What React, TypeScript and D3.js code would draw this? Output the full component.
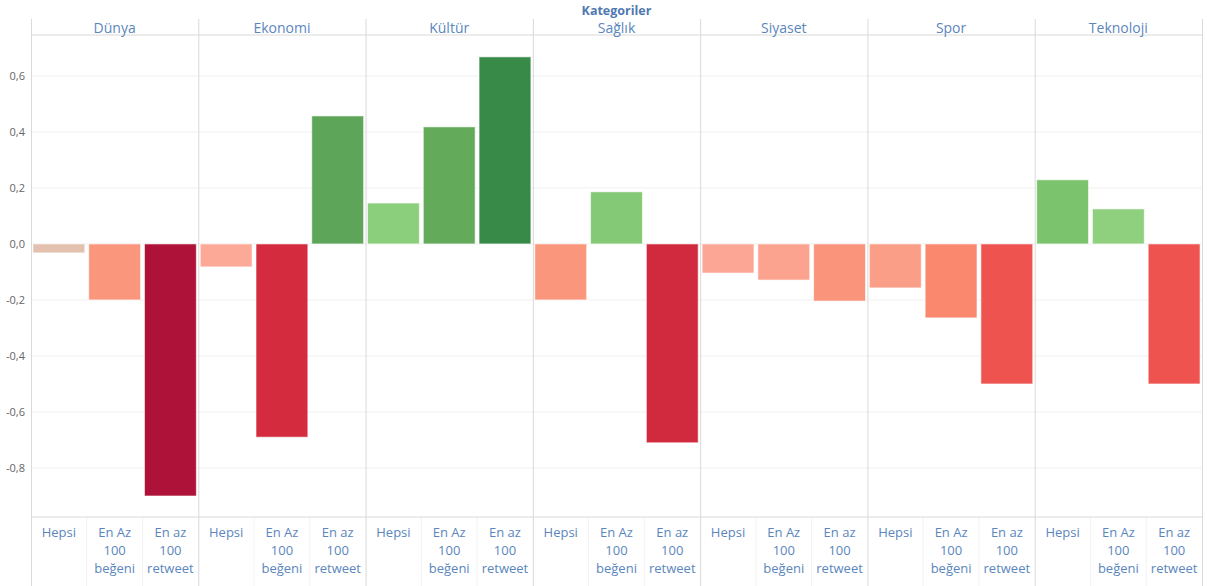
import React, { useEffect, useRef } from "react";
import * as d3 from "d3";

const categories = ["Dünya", "Ekonomi", "Kültür", "Sağlık", "Siyaset", "Spor", "Teknoloji"];
const groups = ["Hepsi", "En Az 100 beğeni", "En az 100 retweet"];
const groupLines = [["Hepsi"], ["En Az", "100", "beğeni"], ["En az", "100", "retweet"]];

const hepsi = [-0.032, -0.082, 0.146, -0.2, -0.104, -0.157, 0.229];
const begeni = [-0.2, -0.69, 0.418, 0.186, -0.129, -0.264, 0.125];
const retweet = [-0.9, 0.457, 0.668, -0.71, -0.204, -0.5, -0.5];

const yTicks = [-0.8, -0.6, -0.4, -0.2, 0, 0.2, 0.4, 0.6];

const W = 1207;
const H = 586;

const App: React.FC = () => {
  const svgRef = useRef<SVGSVGElement>(null);

  useEffect(() => {
    if (!svgRef.current) return;
    const svg = d3.select(svgRef.current);
    svg.selectAll("*").remove();

    const left = 31, right = 1202, top = 35, bottom = 517;
    const font = "'Open Sans', 'Noto Sans', sans-serif";
    const blue = "#5b86bd";

    const data = categories.flatMap((c, i) => [
      { cat: c, grp: groups[0], v: hepsi[i] },
      { cat: c, grp: groups[1], v: begeni[i] },
      { cat: c, grp: groups[2], v: retweet[i] },
    ]);

    const x0 = d3.scaleBand().domain(categories).range([left, right]);
    const x1 = d3.scaleBand().domain(groups).range([0, x0.bandwidth()]).paddingInner(0.07).paddingOuter(0.035);
    const y = d3.scaleLinear().domain([-0.975, 0.746]).range([bottom, top]);

    const color = d3.scaleLinear<string>()
      .domain([-0.9, -0.7, -0.5, -0.26, -0.2, -0.1, -0.06, -0.03, 0, 0.12, 0.23, 0.42, 0.67])
      .range(["#ae1238", "#d32a3d", "#ef5350", "#f9896f", "#fa967c", "#fca896", "#fcab99", "#e2c3b0",
        "#d8cfbe", "#8fd17f", "#7cc36e", "#63aa5b", "#388a48"])
      .interpolate(d3.interpolateRgb)
      .clamp(true);

    // grid lines
    svg.append("g")
      .selectAll("line")
      .data(yTicks)
      .join("line")
      .attr("x1", left).attr("x2", right)
      .attr("y1", d => y(d)).attr("y2", d => y(d))
      .attr("stroke", "#f0f0f0");

    // tick labels
    svg.append("g")
      .selectAll("text")
      .data(yTicks)
      .join("text")
      .attr("x", 25)
      .attr("y", d => y(d) + 4)
      .attr("text-anchor", "end")
      .attr("font-family", font)
      .attr("font-size", 11)
      .attr("fill", "#666")
      .text(d => d3.format(".1f")(d).replace(".", ",").replace("−", "-"));

    // faint separators in bottom label strip
    svg.append("g")
      .selectAll("line")
      .data(data.filter(d => d.grp !== groups[0]))
      .join("line")
      .attr("x1", d => x0(d.cat)! + x1(d.grp)! - 2)
      .attr("x2", d => x0(d.cat)! + x1(d.grp)! - 2)
      .attr("y1", bottom).attr("y2", H)
      .attr("stroke", "#f3f3f3");

    // bars
    svg.append("g")
      .selectAll("rect")
      .data(data)
      .join("rect")
      .attr("x", d => x0(d.cat)! + x1(d.grp)!)
      .attr("width", x1.bandwidth())
      .attr("y", d => y(Math.max(0, d.v)))
      .attr("height", d => Math.abs(y(d.v) - y(0)))
      .attr("fill", d => color(d.v))
      .attr("stroke", "rgba(255,255,255,0.6)")
      .attr("stroke-width", 1);

    // frame lines
    const lines = svg.append("g").attr("stroke", "#d9d9d9").attr("stroke-width", 1);
    lines.append("line").attr("x1", left).attr("x2", right).attr("y1", top).attr("y2", top);
    lines.append("line").attr("x1", left).attr("x2", right).attr("y1", bottom).attr("y2", bottom);
    lines.selectAll(".sep")
      .data([...categories.map(c => x0(c)!), right])
      .join("line")
      .attr("class", "sep")
      .attr("x1", d => d + 0.5).attr("x2", d => d + 0.5)
      .attr("y1", 19).attr("y2", H);

    // header
    svg.append("text")
      .attr("x", (left + right) / 2)
      .attr("y", 15)
      .attr("text-anchor", "middle")
      .attr("font-family", font)
      .attr("font-size", 12.5)
      .attr("font-weight", "bold")
      .attr("fill", "#4f79b0")
      .text("Kategoriler");

    svg.append("g")
      .selectAll("text")
      .data(categories)
      .join("text")
      .attr("x", d => x0(d)! + x0.bandwidth() / 2)
      .attr("y", 33)
      .attr("text-anchor", "middle")
      .attr("font-family", font)
      .attr("font-size", 14)
      .attr("fill", blue)
      .text(d => d);

    // bottom group labels
    const lbl = svg.append("g")
      .selectAll("text")
      .data(data)
      .join("text")
      .attr("x", d => x0(d.cat)! + x1(d.grp)! + x1.bandwidth() / 2)
      .attr("y", 537)
      .attr("text-anchor", "middle")
      .attr("font-family", font)
      .attr("font-size", 13)
      .attr("fill", blue);

    lbl.selectAll("tspan")
      .data(d => groupLines[groups.indexOf(d.grp)])
      .join("tspan")
      .attr("x", function () {
        return (this.parentNode as SVGTextElement).getAttribute("x");
      })
      .attr("dy", (_, i) => (i === 0 ? 0 : 18))
      .text(d => d);
  }, []);

  return (
    <svg
      ref={svgRef}
      width={W}
      height={H}
      style={{ position: "absolute", left: 0, top: 0, background: "#fff" }}
    />
  );
};

export default App;
